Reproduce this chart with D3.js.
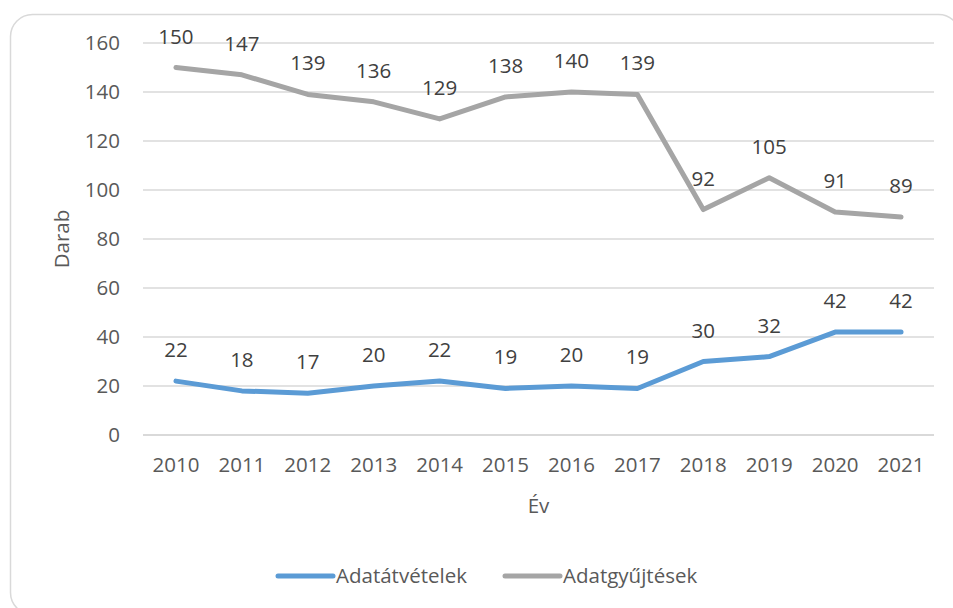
<!DOCTYPE html>
<html>
<head>
<meta charset="utf-8">
<script src="https://cdn.jsdelivr.net/npm/d3@7"></script>
<style>
  body { margin: 0; background: #fff; }
  svg { display: block; font-family: "Open Sans", sans-serif; }
</style>
</head>
<body>
<div id="chart"></div>
<script>
// data
const years = ["2010", "2011", "2012", "2013", "2014", "2015", "2016", "2017", "2018", "2019", "2020", "2021"];
const atvetelek = [22, 18, 17, 20, 22, 19, 20, 19, 30, 32, 42, 42];
const gyujtesek = [150, 147, 139, 136, 129, 138, 140, 139, 92, 105, 91, 89];
const yTicks = [0, 20, 40, 60, 80, 100, 120, 140, 160];
const seriesNames = ["Adatátvételek", "Adatgyűjtések"];
const colors = ["#5B9BD5", "#A5A5A5"];

const width = 953;
const height = 608;
const margin = { top: 43, right: 19, bottom: 173, left: 143 };
const fontSize = "20.5px";

const svg = d3.select("#chart")
  .append("svg")
  .attr("width", width)
  .attr("height", height);

// outer chart frame
svg.append("rect")
  .attr("x", 10.5)
  .attr("y", 14.5)
  .attr("width", 950)
  .attr("height", 600)
  .attr("rx", 22)
  .attr("fill", "#fff")
  .attr("stroke", "#D9D9D9")
  .attr("stroke-width", 1.5);

const x = d3.scaleBand()
  .domain(years)
  .range([margin.left, width - margin.right]);

const y = d3.scaleLinear()
  .domain([0, 160])
  .range([height - margin.bottom, margin.top]);

const cx = d => x(d) + x.bandwidth() / 2;

// gridlines
svg.append("g")
  .selectAll("line")
  .data(yTicks)
  .enter()
  .append("line")
  .attr("x1", margin.left)
  .attr("x2", width - margin.right)
  .attr("y1", d => y(d))
  .attr("y2", d => y(d))
  .attr("stroke", "#D9D9D9")
  .attr("stroke-width", d => d === 0 ? 2 : 1.3);

const yAxis = d3.axisLeft(y).tickValues(yTicks).tickSize(0).tickPadding(23);
svg.append("g")
  .attr("transform", `translate(${margin.left},0)`)
  .call(yAxis)
  .call(g => g.select(".domain").remove())
  .selectAll("text")
  .attr("fill", "#595959")
  .style("font-size", fontSize)
  .style("font-family", "Open Sans");

const xAxis = d3.axisBottom(x).tickSize(0).tickPadding(22);
svg.append("g")
  .attr("transform", `translate(0,${height - margin.bottom})`)
  .call(xAxis)
  .call(g => g.select(".domain").remove())
  .selectAll("text")
  .attr("fill", "#595959")
  .style("font-size", fontSize)
  .style("font-family", "Open Sans");

// axis titles
svg.append("text")
  .attr("x", (margin.left + width - margin.right) / 2)
  .attr("y", 513)
  .attr("text-anchor", "middle")
  .attr("fill", "#595959")
  .style("font-size", fontSize)
  .text("Év");

svg.append("text")
  .attr("transform", `translate(69,${y(80)}) rotate(-90)`)
  .attr("text-anchor", "middle")
  .attr("fill", "#595959")
  .style("font-size", fontSize)
  .text("Darab");

// lines
const line = d3.line()
  .x((d, i) => cx(years[i]))
  .y(d => y(d));

[atvetelek, gyujtesek].forEach((vals, k) => {
  svg.append("path")
    .datum(vals)
    .attr("d", line)
    .attr("fill", "none")
    .attr("stroke", colors[k])
    .attr("stroke-width", 5)
    .attr("stroke-linejoin", "round")
    .attr("stroke-linecap", "round");

  svg.append("g")
    .selectAll("text")
    .data(vals)
    .enter()
    .append("text")
    .attr("x", (d, i) => cx(years[i]))
    .attr("y", d => y(d) - 24)
    .attr("text-anchor", "middle")
    .attr("fill", "#404040")
    .style("font-size", fontSize)
    .text(d => d);
});

// legend
const legend = svg.append("g").attr("transform", "translate(278,576)");
const legendX = [0, 227];
seriesNames.forEach((name, k) => {
  const g = legend.append("g").attr("transform", `translate(${legendX[k]},0)`);
  g.append("line")
    .attr("x1", 0)
    .attr("x2", 55)
    .attr("stroke", colors[k])
    .attr("stroke-width", 5)
    .attr("stroke-linecap", "round");
  g.append("text")
    .attr("x", 58)
    .attr("y", 7)
    .attr("fill", "#595959")
    .style("font-size", fontSize)
    .text(name);
});
</script>
</body>
</html>
